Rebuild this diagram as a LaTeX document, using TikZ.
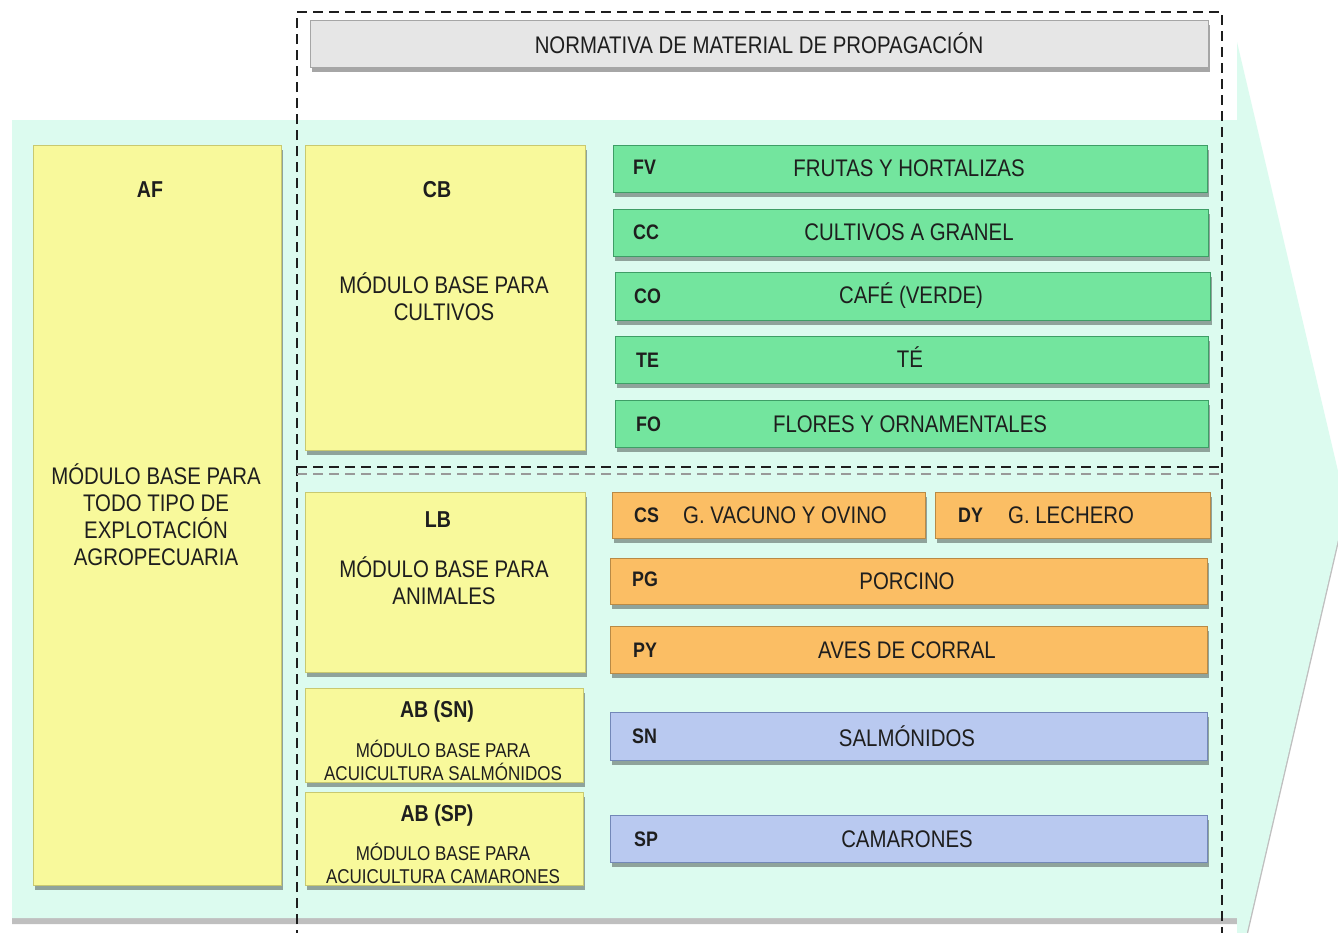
\documentclass[tikz,border=0pt]{standalone}
\usepackage{fontspec}
\setmainfont{Liberation Sans}[FakeStretch=0.85]
\usetikzlibrary{shadows}
\definecolor{mint}{HTML}{DCFBEF}
\definecolor{yel}{HTML}{F8F99B}
\definecolor{yelB}{HTML}{C9C970}
\definecolor{grn}{HTML}{73E59E}
\definecolor{grnB}{HTML}{3E9E66}
\definecolor{org}{HTML}{FBBE64}
\definecolor{orgB}{HTML}{B98A45}
\definecolor{blu}{HTML}{B9C9F0}
\definecolor{bluB}{HTML}{7388B8}
\definecolor{hdr}{HTML}{E6E6E6}
\definecolor{txt}{HTML}{1E1E1E}
\tikzset{
  shd/.style={drop shadow={shadow xshift=2pt, shadow yshift=-5pt, fill=black, opacity=0.35}},
  box/.style={shd, rectangle, inner sep=0pt, line width=0.8pt},
  ybox/.style={box, fill=yel, draw=yelB},
  gbox/.style={box, fill=grn, draw=grnB},
  obox/.style={box, fill=org, draw=orgB},
  bbox/.style={box, fill=blu, draw=bluB},
  lbl/.style={text=txt, font=\fontsize{24}{27}\selectfont, align=center, inner sep=0pt},
  small/.style={text=txt, font=\fontsize{20}{23}\selectfont, align=center, inner sep=0pt},
  code/.style={text=txt, font=\bfseries\fontsize{21}{24}\selectfont, inner sep=0pt},
  title/.style={text=txt, font=\bfseries\fontsize{23}{26}\selectfont, inner sep=0pt},
  dline/.style={line width=2.3pt, dash pattern=on 10pt off 6pt, draw=txt}
}
\begin{document}
\begin{tikzpicture}[x=1pt,y=-1pt]
\useasboundingbox (0,0) rectangle (1338,932);
\clip (0,0) rectangle (1338,932);
\fill[white] (0,0) rectangle (1338,932);
% background arrow
\path[fill=mint, drop shadow={shadow xshift=0pt, shadow yshift=-6pt, fill=black, opacity=0.25}]
  (12,120) -- (1237,120) -- (1237,42) -- (1346,505) -- (1237,975) -- (1237,918) -- (12,918) -- cycle;
% dashed frame
\coordinate (fa) at (297,12);
\coordinate (fb) at (1222,12);
\coordinate (fc) at (1222,940);
\coordinate (fd) at (297,940);
\draw[dline] (fd) -- (fa) -- (fb) -- (fc);
\coordinate (da) at (297,474);
\coordinate (db) at (1222,474);
\coordinate (dc) at (297,467);
\coordinate (dd) at (1222,467);
\draw[dline, draw=gray!80] (da) -- (db);
\draw[dline] (dc) -- (dd);
% header
\node[box, fill=hdr, draw=gray!70, minimum width=898pt, minimum height=47pt] (hdr) at (759,43.5) {};
\node[lbl] (hdrt) at (hdr) {NORMATIVA DE MATERIAL DE PROPAGACIÓN};
% yellow modules
\node[ybox, minimum width=248pt, minimum height=740pt] (af) at (157,515) {};
\node[title] (aft) at (150,190) {AF};
\node[lbl] (afd) at (156,515) {MÓDULO BASE PARA\\TODO TIPO DE\\EXPLOTACIÓN\\AGROPECUARIA};
\node[ybox, minimum width=280pt, minimum height=305pt] (cb) at (445,297.5) {};
\node[title] (cbt) at (437,190) {CB};
\node[lbl] (cbd) at (444,297) {MÓDULO BASE PARA\\CULTIVOS};
\node[ybox, minimum width=280pt, minimum height=180pt] (lb) at (445,582) {};
\node[title] (lbt) at (438,520) {LB};
\node[lbl] (lbd) at (444,581) {MÓDULO BASE PARA\\ANIMALES};
\node[ybox, minimum width=278pt, minimum height=94pt] (absn) at (444,735) {};
\node[title] (absnt) at (437,712) {AB (SN)};
\node[small] (absnd) at (443,760) {MÓDULO BASE PARA\\ACUICULTURA SALMÓNIDOS};
\node[ybox, minimum width=278pt, minimum height=93pt] (absp) at (444,838.5) {};
\node[title] (abspt) at (437,816) {AB (SP)};
\node[small] (abspd) at (443,863) {MÓDULO BASE PARA\\ACUICULTURA CAMARONES};
% green
\node[gbox, minimum width=594pt, minimum height=47pt] (fv) at (910,168.5) {};
\node[code, anchor=west] (fvc) at (633,167) {FV};
\node[lbl] (fvt) at (909,168) {FRUTAS Y HORTALIZAS};
\node[gbox, minimum width=595pt, minimum height=47pt] (cc) at (910.5,232.5) {};
\node[code, anchor=west] (ccc) at (633,232) {CC};
\node[lbl] (cct) at (909,232) {CULTIVOS A GRANEL};
\node[gbox, minimum width=595pt, minimum height=48pt] (co) at (912.5,296) {};
\node[code, anchor=west] (coc) at (634,296) {CO};
\node[lbl] (cot) at (911,296) {CAFÉ (VERDE)};
\node[gbox, minimum width=593pt, minimum height=47pt] (te) at (911.5,359.5) {};
\node[code, anchor=west] (tec) at (636,360) {TE};
\node[lbl] (tet) at (910,357) {TÉ};
\node[gbox, minimum width=593pt, minimum height=47pt] (fo) at (911.5,423.5) {};
\node[code, anchor=west] (foc) at (636,424) {FO};
\node[lbl] (fot) at (910,424) {FLORES Y ORNAMENTALES};
% orange
\node[obox, minimum width=313pt, minimum height=46pt] (cs) at (768.5,515) {};
\node[code, anchor=west] (csc) at (634,515) {CS};
\node[lbl, anchor=west] (cst) at (683,515) {G. VACUNO Y OVINO};
\node[obox, minimum width=275pt, minimum height=46pt] (dy) at (1072.5,515) {};
\node[code, anchor=west] (dyc) at (958,515) {DY};
\node[lbl, anchor=west] (dyt) at (1008,515) {G. LECHERO};
\node[obox, minimum width=597pt, minimum height=46pt] (pg) at (908.5,581) {};
\node[code, anchor=west] (pgc) at (632,579) {PG};
\node[lbl] (pgt) at (907,581) {PORCINO};
\node[obox, minimum width=597pt, minimum height=47pt] (py) at (908.5,649.5) {};
\node[code, anchor=west] (pyc) at (633,650) {PY};
\node[lbl] (pyt) at (907,650) {AVES DE CORRAL};
% blue
\node[bbox, minimum width=597pt, minimum height=48pt] (sn) at (908.5,736) {};
\node[code, anchor=west] (snc) at (632,736) {SN};
\node[lbl] (snt) at (907,736) {SALMÓNIDOS};
\node[bbox, minimum width=597pt, minimum height=47pt] (sp) at (908.5,838.5) {};
\node[code, anchor=west] (spc) at (634,839) {SP};
\node[lbl] (spt) at (907,839) {CAMARONES};
\end{tikzpicture}
\end{document}
